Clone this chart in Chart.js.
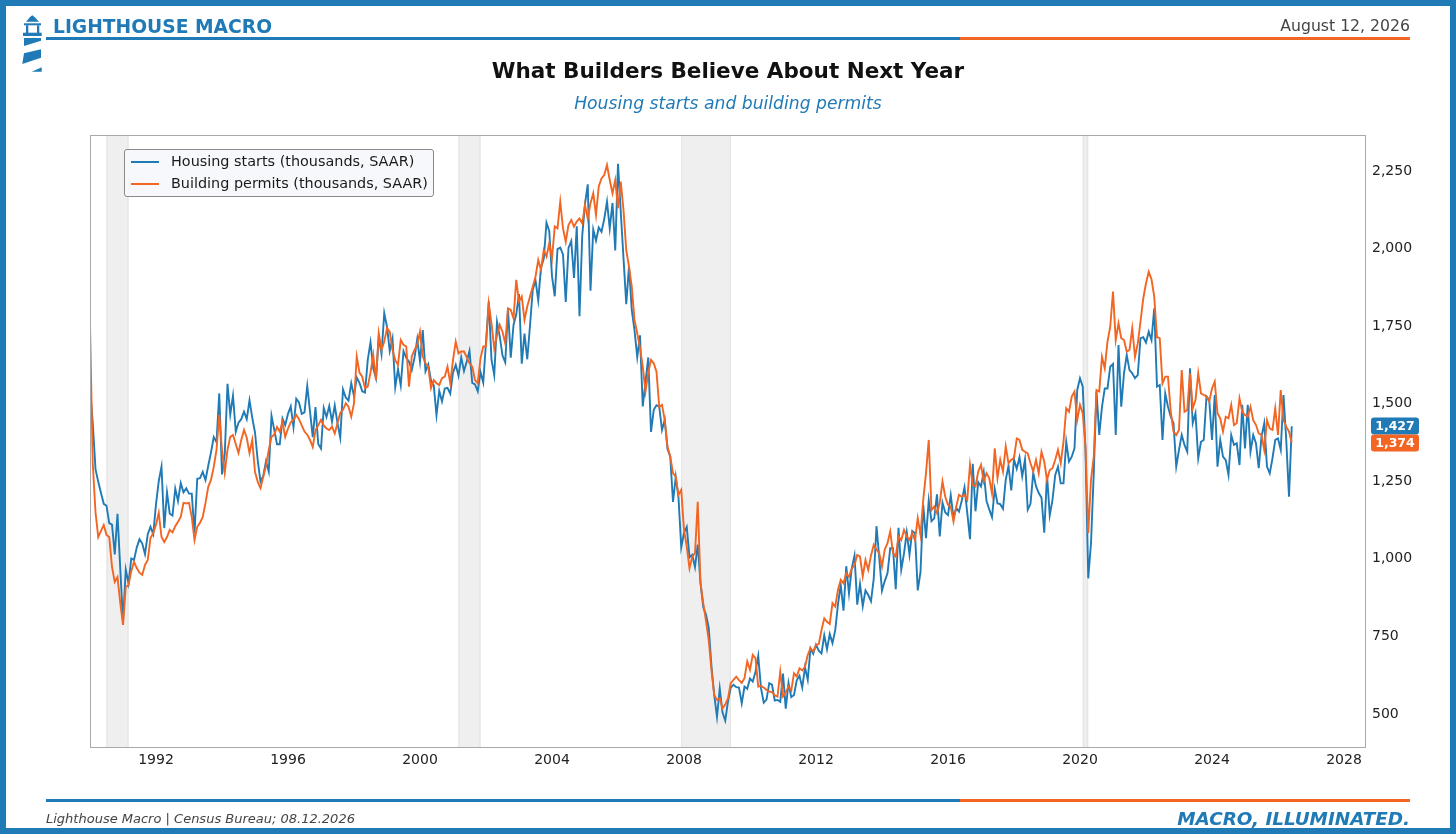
<!DOCTYPE html>
<html>
<head>
<meta charset="utf-8">
<script src="https://cdn.jsdelivr.net/npm/chart.js@4.4.1/dist/chart.umd.min.js"></script>
<style>
  html, body { margin: 0; padding: 0; background: #fff; }
  #wrap { position: relative; width: 1456px; height: 834px; overflow: hidden; background: #fff; font-family: "DejaVu Sans", sans-serif; }
  #c { position: absolute; left: 0; top: 0; }
  #frame { position: absolute; left: 0; top: 0; width: 1456px; height: 834px; box-sizing: border-box; border: 6px solid #1f7ab5; pointer-events: none; z-index: 10; }
  .t { position: absolute; white-space: nowrap; line-height: 1; }
  .rule { position: absolute; height: 3px; }
  #legend { position: absolute; left: 124px; top: 149px; width: 308px; height: 46px; border: 1px solid #8a8a8a; border-radius: 3px; background: rgba(246,248,251,0.95); z-index: 5; }
  .lrow { position: absolute; left: 0; height: 20px; }
  .lsw { position: absolute; left: 6px; top: 9px; width: 28px; height: 2px; }
  .ltx { position: absolute; left: 46px; top: 2px; font-size: 14.4px; color: #1a1a1a; line-height: 1; white-space: nowrap; }
</style>
</head>
<body>
<div id="wrap">
  <canvas id="c" width="1456" height="834"></canvas>

  <svg style="position:absolute;left:22px;top:15px;" width="22" height="58" viewBox="0 0 22 58">
    <g fill="#1f7ab5">
      <polygon points="4,6.7 8,2 10.3,0.3 12.6,2 17,6.7"/>
      <rect x="2" y="8.3" width="17" height="2"/>
      <rect x="4" y="10.3" width="2.3" height="8"/>
      <rect x="15" y="10.3" width="2.3" height="8"/>
      <rect x="1" y="17.7" width="18.7" height="3.3"/>
      <polygon points="2,23 19,23 19,25.7 2,31"/>
      <polygon points="2,38.3 19,34.3 19,42.7 0.3,49"/>
      <polygon points="9.7,56.7 19.7,52.3 19.7,56.7"/>
    </g>
  </svg>

  <div class="t" style="left:53px;top:17.5px;font-size:18.7px;font-weight:bold;color:#1f7ab5;">LIGHTHOUSE MACRO</div>
  <div class="t" style="right:46px;top:17.5px;font-size:15.7px;color:#444;">August 12, 2026</div>
  <div class="rule" style="left:46px;top:36.5px;width:914px;background:#1f7ab5;"></div>
  <div class="rule" style="left:960px;top:36.5px;width:450px;background:#f26522;"></div>

  <div class="t" style="left:0;width:1456px;text-align:center;top:60px;font-size:21.5px;font-weight:bold;color:#111;">What Builders Believe About Next Year</div>
  <div class="t" style="left:0;width:1456px;text-align:center;top:95px;font-size:17.2px;font-style:italic;color:#1f7ab5;">Housing starts and building permits</div>

  <div id="legend">
    <div class="lrow" style="top:2px;"><div class="lsw" style="background:#1f7ab5;"></div><div class="ltx">Housing starts (thousands, SAAR)</div></div>
    <div class="lrow" style="top:24px;"><div class="lsw" style="background:#f26522;"></div><div class="ltx">Building permits (thousands, SAAR)</div></div>
  </div>

  <div class="rule" style="left:46px;top:798.5px;width:914px;background:#1f7ab5;"></div>
  <div class="rule" style="left:960px;top:798.5px;width:450px;background:#f26522;"></div>
  <div class="t" style="left:46px;top:812px;font-size:13px;font-style:italic;color:#444;">Lighthouse Macro | Census Bureau; 08.12.2026</div>
  <div class="t" style="right:46px;top:810px;font-size:18.4px;font-style:italic;font-weight:bold;color:#1f7ab5;">MACRO, ILLUMINATED.</div>

  <div id="frame"></div>
</div>

<script>
// ---------------- DATA (monthly, Jan 1990 - Jun 2026) ----------------
const startYear = 1990;

const starts1990s = [
  1551,1437,1289,1248,1212,1177,1171,1115,1110,1014,1145,969,
  798,965,921,1001,996,1036,1063,1049,1015,1079,1103,1079,
  1176,1250,1297,1099,1214,1145,1139,1226,1186,1244,1214,1227,
  1210,1210,1083,1258,1260,1280,1254,1300,1343,1392,1376,1533,
  1272,1337,1564,1465,1526,1409,1439,1450,1474,1450,1511,1455,
  1407,1316,1249,1267,1314,1281,1461,1416,1369,1369,1452,1431,
  1467,1491,1424,1516,1504,1467,1472,1557,1475,1392,1489,1370,
  1355,1486,1457,1492,1442,1494,1437,1390,1546,1520,1510,1566,
  1525,1584,1567,1540,1536,1641,1698,1614,1582,1715,1660,1792,
  1748,1670,1710,1553,1611,1559,1669,1648,1635,1608,1648,1708
];
const starts2000s = [
  1636,1737,1604,1626,1575,1559,1463,1541,1507,1549,1551,1532,
  1600,1625,1590,1649,1605,1636,1670,1567,1562,1540,1602,1568,
  1698,1829,1642,1592,1764,1717,1655,1633,1804,1648,1753,1788,
  1853,1629,1726,1643,1751,1867,1897,1833,1939,1967,2083,2057,
  1911,1846,1998,2003,1981,1828,2002,2024,1905,2072,1782,2042,
  2144,2207,1864,2061,2025,2068,2054,2095,2151,2065,2147,1994,
  2273,2119,1969,1821,1942,1802,1737,1650,1720,1491,1570,1649,
  1409,1480,1495,1490,1415,1448,1354,1330,1183,1264,1197,1037,
  1084,1103,1005,1013,973,1046,923,844,820,777,652,560,
  490,582,505,478,540,585,594,586,585,534,588,581
];
const starts2010s = [
  614,604,636,687,583,536,546,599,594,543,545,539,
  630,517,600,554,561,608,623,585,650,610,711,694,
  723,704,695,753,708,757,728,770,854,915,833,976,
  888,969,1010,852,919,847,898,883,863,936,1105,1003,
  897,928,953,1034,1034,902,1100,965,1017,1085,1013,1089,
  1082,898,957,1174,1066,1188,1121,1130,1208,1072,1181,1149,
  1141,1205,1133,1164,1152,1187,1230,1149,1063,1306,1153,1247,
  1233,1280,1187,1159,1134,1225,1178,1176,1161,1255,1299,1220,
  1320,1290,1327,1266,1320,1158,1177,1277,1234,1212,1197,1084,
  1271,1140,1190,1270,1297,1243,1243,1377,1313,1329,1356,1544
];
const starts2020s = [
  1582,1555,1350,937,1050,1275,1539,1399,1490,1549,1549,1619,
  1628,1399,1689,1490,1598,1657,1608,1598,1582,1592,1711,1714,
  1697,1732,1705,1807,1555,1560,1383,1533,1490,1458,1437,1297,
  1351,1399,1367,1345,1614,1437,1469,1324,1377,1383,1523,1512,
  1383,1528,1297,1383,1329,1318,1270,1399,1367,1372,1302,1496,
  1356,1496,1345,1399,1372,1292,1394,1437,1297,1275,1324,1383,
  1388,1351,1528,1383,1200,1427
];

const permits1990s = [
  1756,1308,1150,1070,1090,1109,1077,1070,974,925,941,858,
  787,909,915,960,990,970,955,948,980,996,1067,1083,
  1110,1148,1070,1054,1070,1093,1085,1105,1119,1135,1180,1178,
  1180,1135,1060,1103,1116,1135,1180,1232,1254,1296,1351,1464,
  1351,1277,1351,1393,1399,1370,1341,1383,1415,1390,1341,1383,
  1280,1248,1228,1264,1300,1351,1393,1400,1425,1410,1441,1393,
  1420,1440,1448,1464,1450,1430,1410,1400,1383,1360,1415,1430,
  1448,1430,1420,1415,1426,1404,1437,1470,1480,1501,1490,1458,
  1501,1652,1600,1587,1550,1555,1600,1657,1576,1727,1673,1700,
  1743,1732,1673,1640,1625,1705,1690,1684,1555,1652,1673,1690
];
const permits2000s = [
  1732,1652,1630,1619,1550,1576,1566,1560,1582,1587,1619,1566,
  1640,1700,1662,1668,1668,1650,1630,1619,1576,1566,1646,1684,
  1684,1823,1759,1678,1720,1754,1732,1694,1807,1802,1775,1899,
  1829,1845,1770,1813,1845,1877,1909,1963,1931,1995,1974,2017,
  1968,2071,2065,2151,2065,2022,2076,2092,2071,2087,2097,2081,
  2140,2097,2146,2178,2108,2200,2226,2237,2269,2221,2178,2221,
  2130,2216,2124,1995,1942,1877,1770,1727,1680,1620,1539,1600,
  1641,1630,1603,1490,1496,1447,1361,1329,1276,1265,1206,1222,
  1093,1040,969,1007,1018,1184,921,857,800,737,640,560,
  545,550,518,530,550,599,610,620,609,600,615,669
];
const permits2010s = [
  642,690,680,588,590,585,577,572,570,560,556,636,
  556,570,588,575,631,620,647,640,652,690,712,701,
  722,725,770,808,797,790,857,846,900,932,921,953,
  942,968,980,1012,1007,943,996,964,1010,1045,1030,1018,
  975,1030,1050,1088,1018,1007,1072,1060,1093,1072,1061,1082,
  1060,1131,1077,1190,1276,1383,1157,1168,1147,1180,1249,1200,
  1174,1168,1120,1168,1206,1200,1206,1190,1303,1238,1233,1281,
  1303,1249,1276,1260,1211,1356,1260,1319,1281,1362,1308,1319,
  1324,1388,1383,1351,1345,1340,1308,1281,1319,1276,1345,1313,
  1254,1286,1292,1319,1351,1308,1377,1485,1474,1523,1539,1447
];
const permits2020s = [
  1496,1469,1361,1082,1254,1329,1544,1539,1651,1614,1700,1748,
  1861,1705,1759,1711,1705,1668,1673,1743,1651,1694,1764,1839,
  1888,1925,1901,1845,1714,1711,1565,1587,1587,1474,1410,1399,
  1415,1608,1474,1480,1598,1485,1512,1598,1533,1528,1523,1506,
  1549,1571,1469,1453,1410,1458,1453,1496,1431,1437,1517,1474,
  1463,1458,1490,1447,1431,1404,1399,1351,1447,1420,1415,1485,
  1399,1544,1447,1426,1410,1374
];

const xTickYears = [1992,1996,2000,2004,2008,2012,2016,2020,2024,2028];
const yTickValues = [500,750,1000,1250,1500,1750,2000,2250];
// NBER recessions as [start, end] in decimal years
const recessions = [[1990.5,1991.167],[2001.167,2001.833],[2007.917,2009.417],[2020.083,2020.25]];

const seriesLabels = ['Housing starts (thousands, SAAR)','Building permits (thousands, SAAR)'];
const BLUE = '#1f7ab5', ORANGE = '#f26522';

// ---------------- BUILD ----------------
const housingStarts = [...starts1990s, ...starts2000s, ...starts2010s, ...starts2020s];
const buildingPermits = [...permits1990s, ...permits2000s, ...permits2010s, ...permits2020s];
const toPoints = arr => arr.map((v, i) => ({ x: startYear + i / 12, y: v }));
const fmt = v => Number(v).toLocaleString('en-US');

const bandsPlugin = {
  id: 'bands',
  beforeDatasetsDraw(chart) {
    const { ctx, chartArea: a, scales: { x } } = chart;
    ctx.save();
    recessions.forEach(([s, e]) => {
      const x0 = x.getPixelForValue(s), x1 = x.getPixelForValue(e);
      ctx.fillStyle = '#efefef';
      ctx.fillRect(x0, a.top, x1 - x0, a.bottom - a.top);
      ctx.strokeStyle = '#e2e2e2';
      ctx.lineWidth = 1;
      ctx.beginPath();
      ctx.moveTo(x0 + 0.5, a.top); ctx.lineTo(x0 + 0.5, a.bottom);
      ctx.moveTo(x1 - 0.5, a.top); ctx.lineTo(x1 - 0.5, a.bottom);
      ctx.stroke();
    });
    ctx.restore();
  },
  afterDraw(chart) {
    const { ctx, chartArea: a, scales: { y } } = chart;
    ctx.save();
    ctx.strokeStyle = '#a9a9a9';
    ctx.lineWidth = 1;
    ctx.strokeRect(a.left + 0.5, a.top + 0.5, a.right - a.left - 1, a.bottom - a.top - 1);
    // end-value tags
    const tags = chart.data.datasets.map(ds => {
      const last = ds.data[ds.data.length - 1].y;
      return { v: last, py: y.getPixelForValue(last), color: ds.borderColor };
    });
    tags.sort((p, q) => p.py - q.py);
    const h = 17;
    for (let i = 1; i < tags.length; i++) {
      if (tags[i].py - tags[i - 1].py < h) {
        const mid = (tags[i].py + tags[i - 1].py) / 2;
        tags[i - 1].py = mid - h / 2; tags[i].py = mid + h / 2;
      }
    }
    tags.forEach(t => {
      const bx = a.right + 5, bw = 48, by = t.py - h / 2;
      ctx.fillStyle = t.color;
      ctx.beginPath();
      ctx.roundRect(bx, by, bw, h, 3);
      ctx.fill();
      ctx.fillStyle = '#fff';
      ctx.font = 'bold 12.5px "DejaVu Sans"';
      ctx.textAlign = 'center';
      ctx.textBaseline = 'middle';
      ctx.fillText(fmt(t.v), bx + bw / 2, t.py + 0.5);
    });
    ctx.restore();
  }
};

new Chart(document.getElementById('c'), {
  type: 'line',
  data: {
    datasets: [
      { label: seriesLabels[0], data: toPoints(housingStarts), borderColor: BLUE, backgroundColor: BLUE, borderWidth: 1.9, pointRadius: 0, tension: 0, order: 1 },
      { label: seriesLabels[1], data: toPoints(buildingPermits), borderColor: ORANGE, backgroundColor: ORANGE, borderWidth: 1.9, pointRadius: 0, tension: 0, order: 0 }
    ]
  },
  options: {
    responsive: false,
    animation: false,
    parsing: false,
    normalized: true,
    layout: { padding: { left: 90, top: 135, right: 0, bottom: 0 } },
    plugins: { legend: { display: false }, tooltip: { enabled: false } },
    scales: {
      x: {
        type: 'linear', min: 1990, max: 2028.667,
        grid: { display: false, drawTicks: false }, border: { display: false },
        ticks: { font: { family: 'DejaVu Sans', size: 14 }, color: '#222', padding: 4, maxRotation: 0, autoSkip: false, callback: v => String(v) },
        afterBuildTicks: s => { s.ticks = xTickYears.map(v => ({ value: v })); },
        afterFit: s => { s.height = 86; }
      },
      y: {
        type: 'linear', position: 'right', min: 390, max: 2366,
        grid: { display: false, drawTicks: false }, border: { display: false },
        ticks: { font: { family: 'DejaVu Sans', size: 14 }, color: '#222', padding: 6, autoSkip: false, callback: v => fmt(v) },
        afterBuildTicks: s => { s.ticks = yTickValues.map(v => ({ value: v })); },
        afterFit: s => { s.width = 90; }
      }
    }
  },
  plugins: [bandsPlugin]
});
</script>
</body>
</html>
